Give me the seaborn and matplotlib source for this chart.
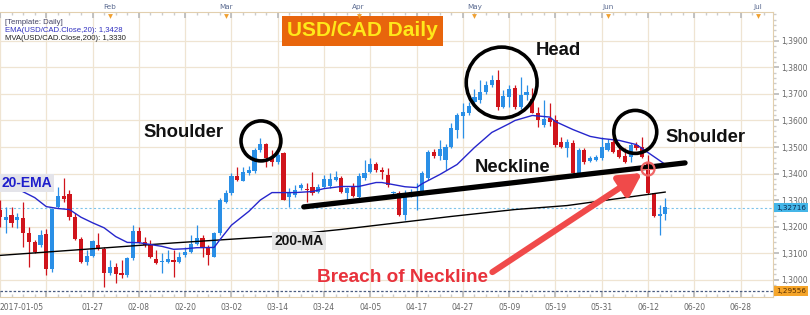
import matplotlib
matplotlib.use("Agg")
import matplotlib.pyplot as plt
import seaborn as sns
import pandas as pd
import numpy as np
from matplotlib.patches import Ellipse

# ---------------- data ----------------
opens = [1.3262, 1.3225, 1.3243, 1.3225, 1.3231, 1.3177, 1.3143, 1.3130, 1.3172, 1.3038,
         1.3275, 1.3315, 1.3321, 1.3235, 1.3152, 1.3067, 1.3089, 1.3130, 1.3114, 1.3023,
         1.3046, 1.3026, 1.3017, 1.3080, 1.3183, 1.3140, 1.3134, 1.3077, 1.3065, 1.3065,
         1.3074, 1.3067, 1.3092, 1.3105, 1.3134, 1.3155, 1.3118, 1.3086, 1.3177, 1.3294,
         1.3325, 1.3391, 1.3373, 1.3401, 1.3411, 1.3489, 1.3511, 1.3457, 1.3445, 1.3479,
         1.3312, 1.3319, 1.3344, 1.3340, 1.3350, 1.3331, 1.3348, 1.3352, 1.3375, 1.3382,
         1.3325, 1.3350, 1.3313, 1.3382, 1.3407, 1.3435, 1.3413, 1.3394, 1.3328, 1.3325,
         1.3243, 1.3325, 1.3322, 1.3331, 1.3382, 1.3482, 1.3466, 1.3451, 1.3499, 1.3564,
         1.3617, 1.3630, 1.3670, 1.3677, 1.3709, 1.3734, 1.3753, 1.3652, 1.3690, 1.3723,
         1.3651, 1.3696, 1.3683, 1.3630, 1.3583, 1.3610, 1.3602, 1.3520, 1.3495, 1.3514,
         1.3403, 1.3489, 1.3448, 1.3451, 1.3457, 1.3489, 1.3520, 1.3489, 1.3466, 1.3463,
         1.3508, 1.3501, 1.3445, 1.3325, 1.3240, 1.3247]
highs = [1.3300, 1.3275, 1.3275, 1.3250, 1.3293, 1.3199, 1.3149, 1.3187, 1.3189, 1.3270,
         1.3348, 1.3382, 1.3338, 1.3250, 1.3162, 1.3111, 1.3149, 1.3174, 1.3124, 1.3074,
         1.3061, 1.3074, 1.3086, 1.3206, 1.3199, 1.3162, 1.3149, 1.3111, 1.3099, 1.3111,
         1.3111, 1.3105, 1.3124, 1.3168, 1.3206, 1.3168, 1.3130, 1.3180, 1.3306, 1.3338,
         1.3401, 1.3426, 1.3426, 1.3429, 1.3495, 1.3533, 1.3515, 1.3489, 1.3483, 1.3483,
         1.3344, 1.3357, 1.3363, 1.3363, 1.3407, 1.3360, 1.3394, 1.3403, 1.3411, 1.3390,
         1.3350, 1.3363, 1.3401, 1.3451, 1.3457, 1.3445, 1.3426, 1.3420, 1.3335, 1.3335,
         1.3338, 1.3340, 1.3363, 1.3408, 1.3489, 1.3494, 1.3526, 1.3510, 1.3589, 1.3630,
         1.3665, 1.3670, 1.3720, 1.3753, 1.3750, 1.3772, 1.3791, 1.3715, 1.3734, 1.3734,
         1.3764, 1.3734, 1.3723, 1.3650, 1.3677, 1.3665, 1.3620, 1.3539, 1.3530, 1.3526,
         1.3495, 1.3495, 1.3465, 1.3470, 1.3539, 1.3530, 1.3552, 1.3514, 1.3495, 1.3514,
         1.3520, 1.3539, 1.3470, 1.3328, 1.3281, 1.3306]
lows = [1.3199, 1.3174, 1.3199, 1.3193, 1.3124, 1.3048, 1.3099, 1.3124, 1.3017, 1.3030,
        1.3270, 1.3294, 1.3225, 1.3150, 1.3061, 1.3055, 1.3086, 1.3111, 1.2973, 1.3017,
        1.2986, 1.3005, 1.3011, 1.3074, 1.3137, 1.3124, 1.3080, 1.3059, 1.3023, 1.3061,
        1.3011, 1.3061, 1.3086, 1.3101, 1.3130, 1.3086, 1.3055, 1.3084, 1.3168, 1.3288,
        1.3319, 1.3373, 1.3370, 1.3395, 1.3401, 1.3483, 1.3426, 1.3429, 1.3437, 1.3300,
        1.3275, 1.3312, 1.3338, 1.3294, 1.3319, 1.3325, 1.3344, 1.3344, 1.3370, 1.3325,
        1.3300, 1.3310, 1.3306, 1.3375, 1.3401, 1.3407, 1.3380, 1.3350, 1.3320, 1.3240,
        1.3225, 1.3310, 1.3262, 1.3320, 1.3375, 1.3460, 1.3451, 1.3413, 1.3495, 1.3533,
        1.3533, 1.3620, 1.3660, 1.3665, 1.3700, 1.3725, 1.3640, 1.3647, 1.3651, 1.3645,
        1.3645, 1.3677, 1.3628, 1.3577, 1.3577, 1.3580, 1.3500, 1.3495, 1.3463, 1.3401,
        1.3398, 1.3436, 1.3445, 1.3448, 1.3451, 1.3485, 1.3476, 1.3457, 1.3438, 1.3445,
        1.3489, 1.3457, 1.3322, 1.3235, 1.3168, 1.3225]
closes = [1.3237, 1.3237, 1.3214, 1.3235, 1.3177, 1.3143, 1.3105, 1.3168, 1.3038, 1.3266,
          1.3315, 1.3305, 1.3235, 1.3152, 1.3067, 1.3090, 1.3145, 1.3114, 1.3023, 1.3046,
          1.3021, 1.3017, 1.3080, 1.3183, 1.3140, 1.3130, 1.3086, 1.3061, 1.3071, 1.3077,
          1.3067, 1.3086, 1.3105, 1.3134, 1.3155, 1.3118, 1.3092, 1.3177, 1.3300, 1.3325,
          1.3391, 1.3375, 1.3407, 1.3413, 1.3489, 1.3511, 1.3457, 1.3445, 1.3470, 1.3300,
          1.3325, 1.3338, 1.3355, 1.3336, 1.3325, 1.3350, 1.3378, 1.3378, 1.3386, 1.3331,
          1.3344, 1.3315, 1.3391, 1.3403, 1.3435, 1.3413, 1.3407, 1.3357, 1.3331, 1.3243,
          1.3325, 1.3331, 1.3328, 1.3401, 1.3482, 1.3466, 1.3494, 1.3499, 1.3571, 1.3621,
          1.3633, 1.3655, 1.3689, 1.3708, 1.3734, 1.3753, 1.3652, 1.3692, 1.3718, 1.3651,
          1.3696, 1.3708, 1.3630, 1.3602, 1.3605, 1.3595, 1.3508, 1.3501, 1.3520, 1.3403,
          1.3489, 1.3445, 1.3457, 1.3463, 1.3501, 1.3514, 1.3482, 1.3463, 1.3445, 1.3508,
          1.3495, 1.3463, 1.3325, 1.3240, 1.3247, 1.3272]

ema_idx = [0, 3, 6, 8, 10, 12, 14, 16, 18, 20, 22, 24, 26, 28, 30, 32, 34, 37, 38, 40,
           43, 45, 47, 51, 54, 56, 59, 62, 65, 66, 68, 70, 72, 73, 76, 79, 82, 85, 88, 89,
           92, 95, 96, 99, 102, 104, 107, 110, 112, 115]
ema_val = [1.3378, 1.3342, 1.3309, 1.3275, 1.3268, 1.3264, 1.3235, 1.3214, 1.3195, 1.3162,
           1.3140, 1.3139, 1.3132, 1.3125, 1.3114, 1.3116, 1.3120, 1.3121, 1.3150, 1.3205,
           1.3257, 1.3300, 1.3328, 1.3328, 1.3332, 1.3343, 1.3351, 1.3351, 1.3366, 1.3366,
           1.3358, 1.3350, 1.3347, 1.3362, 1.3396, 1.3434, 1.3498, 1.3555, 1.3588, 1.3600,
           1.3619, 1.3613, 1.3596, 1.3566, 1.3540, 1.3532, 1.3525, 1.3509, 1.3479, 1.3434]

ma_idx = [0, 30, 47, 59, 78, 89, 98, 115]
ma_val = [1.3091, 1.3138, 1.3162, 1.3189, 1.3238, 1.3264, 1.3279, 1.3330]

date_tick_idx = [0, 8, 16, 24, 32, 40, 48, 56, 64, 72, 80, 88, 96, 104, 112, 120, 128]
date_labels = ["2017-01-05", "", "01-27", "02-08", "02-20", "03-02", "03-14", "03-24",
               "04-05", "04-17", "04-27", "05-09", "05-19", "05-31", "06-12", "06-20", "06-28"]
month_idx = [19, 39, 62, 82, 105, 131]
month_labels = ["Feb", "Mar", "Apr", "May", "Jun", "Jul"]
price_ticks = [1.30, 1.31, 1.32, 1.33, 1.34, 1.35, 1.36, 1.37, 1.38, 1.39]
last_price = 1.32716
low_price = 1.29556
ema_last = 1.3428
ma_last = 1.3330

# neckline / annotation anchors (index, price)
neck_x = [52.5, 118.4]
neck_y = [1.3274, 1.3440]

# ---------------- style ----------------
sns.set_theme(style="white")
plt.rcParams['font.family'] = ['DejaVu Sans']
BOLD = ['Liberation Sans', 'DejaVu Sans']
SMALL = ['Liberation Sans', 'DejaVu Sans']

UP = '#2A8FE6'
DOWN = '#D0141C'
GRID = '#EFE4D2'

W, H = 810, 315
fig = plt.figure(figsize=(W / 100, H / 100), dpi=100)
fig.patch.set_facecolor('white')
AX_L, AX_R, AX_T, AX_B = 0, 773, 12, 297
ax = fig.add_axes([AX_L / W, 1 - AX_B / H, (AX_R - AX_L) / W, (AX_B - AX_T) / H])
ax.set_facecolor('white')
XMIN, XMAX = 0.31, 133.6
YMIN, YMAX = 1.2934, 1.40094
ax.set_xlim(XMIN, XMAX)
ax.set_ylim(YMIN, YMAX)

xpx = (AX_R - AX_L) / (XMAX - XMIN)     # pixels per bar
ypx = (AX_B - AX_T) / (YMAX - YMIN)     # pixels per price unit

# grid
for v in date_tick_idx:
    ax.axvline(v, color=GRID, lw=0.9, zorder=0)
for v in price_ticks:
    ax.axhline(v, color=GRID, lw=0.9, zorder=0)

# reference lines
ax.axhline(last_price, color='#7FC4EA', lw=0.8, ls=(0, (2, 2)), zorder=1)
ax.axhline(low_price, color='#4A5C80', lw=0.9, ls=(0, (2, 1.5)), zorder=1)

# candles
df = pd.DataFrame({'idx': np.arange(len(opens)), 'open': opens, 'high': highs,
                   'low': lows, 'close': closes})
df['up'] = df['close'] >= df['open']
cols = np.where(df['up'], UP, DOWN)
ax.vlines(df['idx'], df['low'], df['high'], colors=cols, lw=0.9, zorder=3)
body_lo = np.minimum(df['open'], df['close'])
body_h = np.maximum(np.abs(df['close'] - df['open']), 0.00025)
ax.bar(df['idx'], body_h, bottom=body_lo, width=0.72, color=cols, linewidth=0, zorder=4)

# moving averages
sns.lineplot(x=ma_idx, y=ma_val, ax=ax, color='black', lw=1.0, sort=False,
             estimator=None, zorder=5)
sns.lineplot(x=ema_idx, y=ema_val, ax=ax, color='#2626CC', lw=1.0, sort=False,
             estimator=None, zorder=6)

# neckline
ax.plot(neck_x, neck_y, color='black', lw=3.8, solid_capstyle='round', zorder=7)

# circles (radius in pixels converted to data units)
def circ(cx, cy, rpx, color='black', lw=2.6):
    e = Ellipse((cx, cy), 2 * rpx / xpx, 2 * rpx / ypx, fill=False, ec=color, lw=lw, zorder=8)
    ax.add_patch(e)

circ(45.1, 1.3523, 20)
circ(86.7, 1.3743, 35.5)
circ(109.8, 1.3557, 21.5)
circ(112.0, 1.3417, 6.5, color='#F06666', lw=1.6)
ax.plot([111.0, 113.0], [1.3417, 1.3417], color='#F06666', lw=0.8, zorder=8)
ax.plot([112.0, 112.0], [1.3395, 1.3439], color='#F06666', lw=0.8, zorder=8)

# texts
ax.text(31.7, 1.3553, "Shoulder", family=BOLD, weight='bold', fontsize=13.3,
        ha='center', va='center', color='#111111', zorder=9)
ax.text(96.5, 1.3866, "Head", family=BOLD, weight='bold', fontsize=13.3,
        ha='center', va='center', color='#111111', zorder=9)
ax.text(122.0, 1.3534, "Shoulder", family=BOLD, weight='bold', fontsize=13.3,
        ha='center', va='center', color='#111111', zorder=9)
ax.text(88.6, 1.3421, "Neckline", family=BOLD, weight='bold', fontsize=13.3,
        ha='center', va='center', color='#111111', zorder=9)
ax.text(69.6, 1.3006, "Breach of Neckline", family=BOLD, weight='bold', fontsize=13.7,
        ha='center', va='center', color='#E8323C', zorder=9)
ax.text(4.6, 1.3364, "20-EMA", family=BOLD, weight='bold', fontsize=10,
        ha='center', va='center', color='#1E1ECC', zorder=9,
        bbox=dict(boxstyle='square,pad=0.15', fc='#E4E4EA', ec='none'))
ax.text(51.7, 1.3145, "200-MA", family=BOLD, weight='bold', fontsize=10,
        ha='center', va='center', color='#111111', zorder=9,
        bbox=dict(boxstyle='square,pad=0.15', fc='#E6E6E6', ec='none'))

# arrow
ax.annotate('', xy=(111.0, 1.3402), xytext=(85.1, 1.3028),
            arrowprops=dict(arrowstyle='-|>,head_length=1.1,head_width=0.6',
                            lw=4.4, color='#F04A4A', shrinkA=0, shrinkB=0),
            zorder=10)

# title box
ax.text(62.6, 1.3938, "USD/CAD Daily", family=BOLD, weight='bold', fontsize=15,
        ha='center', va='center', color='#FFE81A', zorder=11,
        bbox=dict(boxstyle='square,pad=0.25', fc='#E8650C', ec='none'))

# top-left legend
ema_txt = f"{ema_last:.4f}".replace('.', ',')
ma_txt = f"{ma_last:.4f}".replace('.', ',')
fig.text(5 / W, 1 - 23 / H, "[Template: Daily]", fontsize=5.6, family=SMALL,
         color='#444466', va='center')
fig.text(5 / W, 1 - 31 / H, f"EMA(USD/CAD.Close,20): {ema_txt}", fontsize=5.6, family=SMALL,
         color='#3030C0', va='center')
fig.text(5 / W, 1 - 38 / H, f"MVA(USD/CAD.Close,200): {ma_txt}", fontsize=5.6, family=SMALL,
         color='#222222', va='center')

# axes: spines / ticks
ax.spines['left'].set_visible(False)
for s in ['top', 'bottom', 'right']:
    ax.spines[s].set_color('#E2CFAE')
    ax.spines[s].set_linewidth(0.8)

ax.yaxis.tick_right()
ax.set_yticks(price_ticks)
ax.set_yticklabels([f"{v:.4f}".replace('.', ',') for v in price_ticks])
ax.set_yticks(np.arange(1.294, 1.401, 0.002), minor=True)
ax.tick_params(axis='y', which='major', labelsize=5.5, labelcolor='#666666', length=4,
               color='#BBBBBB', pad=2, right=True, left=False)
ax.tick_params(axis='y', which='minor', length=2, color='#CCCCCC', right=True, left=False)

ax.set_xticks(date_tick_idx)
ax.set_xticklabels(date_labels)
ax.set_xticks(np.arange(0, 134, 2), minor=True)
ax.tick_params(axis='x', which='major', labelsize=5.5, labelcolor='#666666', length=4,
               direction='in', color='#BBBBBB', pad=4, bottom=True, top=True)
ax.tick_params(axis='x', which='minor', length=2, direction='in', color='#CCCCCC',
               bottom=True, top=True)
ax.get_xticklabels()[0].set_horizontalalignment('left')

# top month axis
sec = ax.secondary_xaxis('top')
sec.set_xticks(month_idx)
sec.set_xticklabels(month_labels)
sec.tick_params(axis='x', length=0, labelsize=5.2, labelcolor='#5A6A90', pad=1.5)
sec.spines['top'].set_visible(False)
ax.scatter(month_idx, [0.985] * len(month_idx), marker='v', s=12, color='#F0A030',
           transform=ax.get_xaxis_transform(), clip_on=False, zorder=12, linewidths=0)

# price boxes on right axis
fig.text((AX_R + 3) / W, 1 - (AX_T + (YMAX - last_price) * ypx) / H,
         f"{last_price:.5f}".replace('.', ','), fontsize=5.2, color='#0A2A50', va='center',
         bbox=dict(boxstyle='square,pad=0.25', fc='#45B6E8', ec='none'))
fig.text((AX_R + 3) / W, 1 - (AX_T + (YMAX - low_price) * ypx) / H,
         f"{low_price:.5f}".replace('.', ','), fontsize=5.2, color='#5A3000', va='center',
         bbox=dict(boxstyle='square,pad=0.25', fc='#F5A52A', ec='none'))

fig.savefig("out.png", dpi=100, facecolor='white')
